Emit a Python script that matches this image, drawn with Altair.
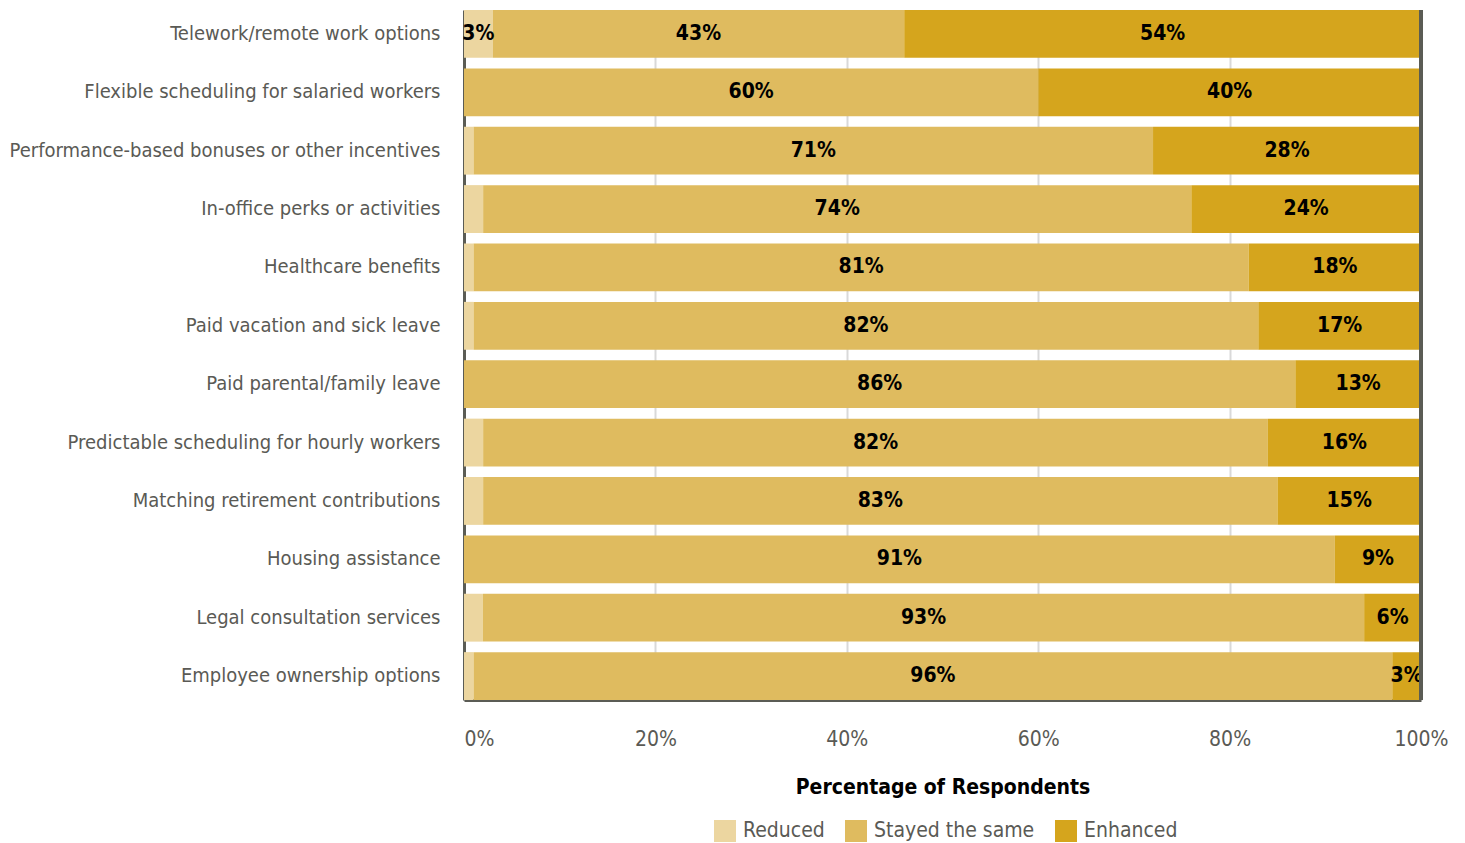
import altair as alt
import pandas as pd

categories = [
    "Telework/remote work options",
    "Flexible scheduling for salaried workers",
    "Performance-based bonuses or other incentives",
    "In-office perks or activities",
    "Healthcare benefits",
    "Paid vacation and sick leave",
    "Paid parental/family leave",
    "Predictable scheduling for hourly workers",
    "Matching retirement contributions",
    "Housing assistance",
    "Legal consultation services",
    "Employee ownership options",
]
reduced = [3, 0, 1, 2, 1, 1, 0, 2, 2, 0, 2, 1]
stayed = [43, 60, 71, 74, 81, 82, 86, 82, 83, 91, 93, 96]
enhanced = [54, 40, 28, 24, 18, 17, 13, 16, 15, 9, 6, 3]

series_names = ["Reduced", "Stayed the same", "Enhanced"]
series_colors = ["#ECD6A0", "#DFBB5F", "#D5A51D"]

rows = []
for i, c in enumerate(categories):
    for k, (name, vals) in enumerate(zip(series_names, [reduced, stayed, enhanced])):
        rows.append({"category": c, "series": name, "order": k, "value": vals[i]})
df = pd.DataFrame(rows)

FONT = "DejaVu Sans Condensed"

y_enc = alt.Y(
    "category:N",
    sort=categories,
    title=None,
    scale=alt.Scale(paddingInner=0.18, paddingOuter=0),
    axis=alt.Axis(
        ticks=False,
        labelPadding=24,
        labelLimit=600,
        labelFontSize=20,
        labelColor="#5a5a55",
        labelFont=FONT,
        domainColor="#5b5c55",
        domainWidth=3,
    ),
)

x_axis = alt.Axis(
    format=".0%",
    values=[0, 0.2, 0.4, 0.6, 0.8, 1.0],
    title="Percentage of Respondents",
    titleFont=FONT,
    titleFontSize=21,
    titleFontWeight="bold",
    titleColor="#000000",
    titlePadding=27,
    labelFont=FONT,
    labelFontSize=21,
    labelColor="#5a5a55",
    labelPadding=28,
    labelAlign=alt.expr("datum.value == 0 ? 'left' : 'center'"),
    ticks=False,
    domainColor="#5b5c55",
    domainWidth=3,
    grid=True,
    gridColor="#d9d9d9",
    gridWidth=2,
)

base = alt.Chart().transform_stack(
    stack="value",
    groupby=["category"],
    as_=["x0", "x1"],
    offset="normalize",
    sort=[alt.SortField("order", order="ascending")],
)

bars = base.mark_bar().encode(
    y=y_enc,
    x=alt.X("x0:Q", scale=alt.Scale(domain=[0, 1], nice=False), axis=x_axis),
    x2="x1:Q",
    color=alt.Color(
        "series:N",
        scale=alt.Scale(domain=series_names, range=series_colors),
        legend=alt.Legend(
            title=None,
            orient="none",
            legendX=250,
            legendY=810,
            direction="horizontal",
            symbolType="square",
            symbolSize=484,
            symbolStrokeWidth=0,
            symbolOpacity=1,
            labelFont=FONT,
            labelFontSize=21,
            labelColor="#5a5a55",
            labelOffset=7,
            labelLimit=400,
            columnPadding=20,
        ),
    ),
)

labels = base.transform_calculate(
    mid="(datum.x0 + datum.x1) / 2",
    label="datum.value + '%'",
).transform_filter("datum.value >= 3").mark_text(
    font=FONT, fontSize=21, fontWeight="bold", color="#000000"
).encode(
    y=alt.Y("category:N", sort=categories),
    x=alt.X("mid:Q"),
    text="label:N",
)

border = alt.Chart().mark_rule(color="#5b5c55", strokeWidth=3).encode(x=alt.datum(1))

chart = alt.layer(bars, labels, border, data=df).properties(
    width=957,
    height=690,
    autosize=alt.AutoSizeParams(type="none"),
    padding={"left": 464, "top": 10, "right": 44, "bottom": 143},
).configure_view(stroke=None)

chart.save("out.html", embed_options={"renderer": "svg", "actions": False})
